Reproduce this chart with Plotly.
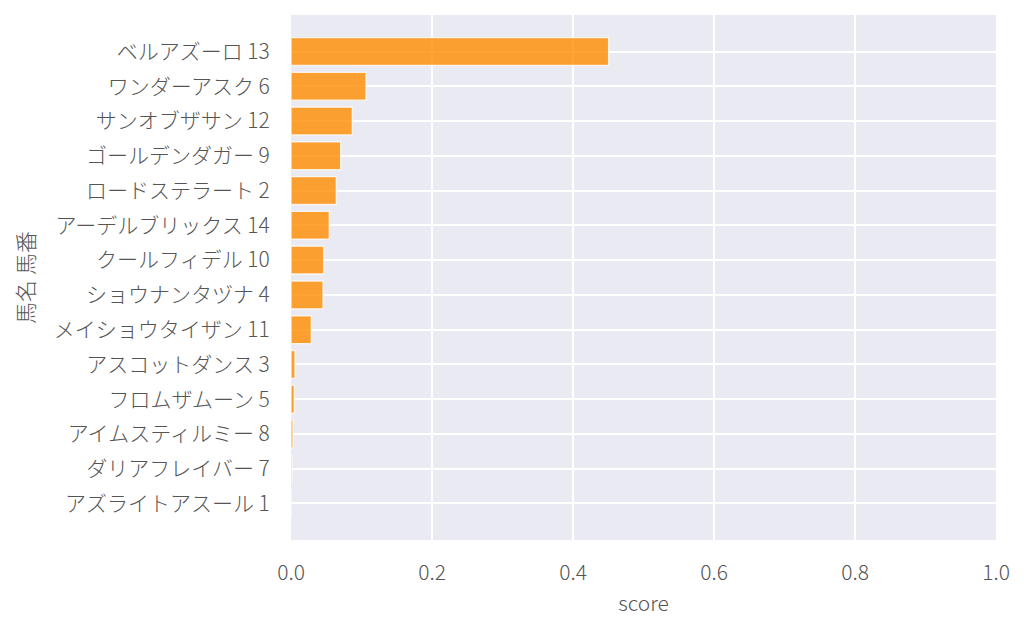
import plotly.graph_objects as go

# horse names with numbers, top to bottom as in the chart
horses = [
    "ベルアズーロ 13", "ワンダーアスク 6", "サンオブザサン 12", "ゴールデンダガー 9",
    "ロードステラート 2", "アーデルブリックス 14", "クールフィデル 10", "ショウナンタヅナ 4",
    "メイショウタイザン 11", "アスコットダンス 3", "フロムザムーン 5", "アイムスティルミー 8",
    "ダリアフレイバー 7", "アズライトアスール 1",
]
scores = [0.4505, 0.1064, 0.087, 0.0704, 0.0643, 0.0543, 0.0463, 0.0454,
          0.0288, 0.0057, 0.0047, 0.0028, 0.0015, 0.0003]
x_ticks = [0.0, 0.2, 0.4, 0.6, 0.8, 1.0]

font = "Noto Sans CJK JP Light, Noto Sans CJK JP"
grey = "#555555"
txt = dict(family=font, size=21, color=grey, weight=300)

fig = go.Figure(go.Bar(
    x=scores, y=horses, orientation="h", width=0.8,
    marker=dict(color="rgba(255,140,0,0.8)", line=dict(color="rgba(255,255,255,0.8)", width=1.3)),
))
# page body has an 8px margin, so the figure is a bit smaller than the window
fig.update_layout(
    width=1016, height=623,
    margin=dict(l=283, r=28, t=7, b=91),
    plot_bgcolor="#EAEAF2", paper_bgcolor="white",
    font=txt,
    showlegend=False,
)
fig.update_xaxes(
    range=[0, 1], tickvals=x_ticks, ticktext=[f"{v:.1f}" for v in x_ticks],
    showgrid=True, gridcolor="white", gridwidth=1.6, zeroline=False,
    ticks="outside", ticklen=14, tickcolor="rgba(0,0,0,0)",
    tickfont=txt,
    title=dict(text="score", standoff=11, font=txt),
)
fig.update_yaxes(
    categoryorder="array", categoryarray=horses,
    range=[14.05, -1.05],
    showgrid=True, gridcolor="white", gridwidth=1.6, zeroline=False,
    ticks="outside", ticklen=16, tickcolor="rgba(0,0,0,0)",
    tickfont=txt,
    title=dict(text="馬名 馬番", standoff=13, font=dict(txt, size=22)),
)
fig.write_html("out.html")
